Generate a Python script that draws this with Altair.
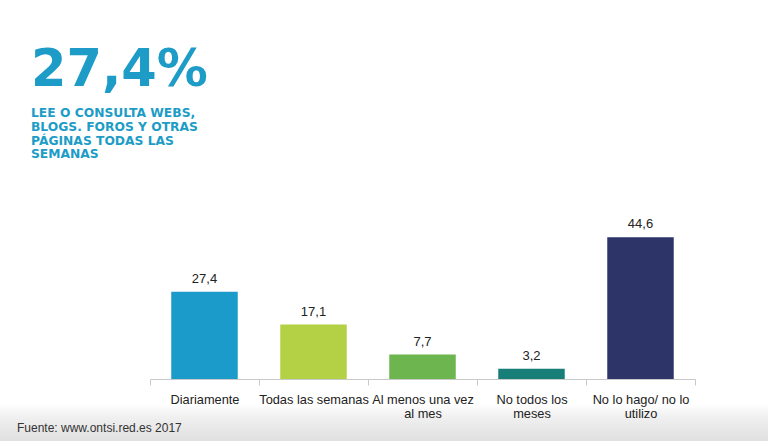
import altair as alt
import pandas as pd

# ---- data ----
categories = ["Diariamente", "Todas las semanas", "Al menos una vez al mes",
              "No todos los meses", "No lo hago/ no lo utilizo"]
axis_labels = ["Diariamente", "Todas las semanas", "Al menos una vez|al mes",
               "No todos los|meses", "No lo hago/ no lo|utilizo"]
values = [27.4, 17.1, 7.7, 3.2, 44.6]
value_labels = ["27,4", "17,1", "7,7", "3,2", "44,6"]
colors = ["#1a9bc9", "#b4d145", "#6cb54f", "#187e78", "#2d3568"]
headline = "27,4%"
subtitle_lines = ["LEE O CONSULTA WEBS,", "BLOGS. FOROS Y OTRAS",
                  "PÁGINAS TODAS LAS", "SEMANAS"]
source_text = "Fuente: www.ontsi.red.es 2017"

df = pd.DataFrame({
    "cat": categories,
    "axlab": axis_labels,
    "value": values,
    "vlabel": value_labels,
})
lab_map = "{" + ",".join(f"'{c}': '{a}'" for c, a in zip(categories, axis_labels)) + "}"

TEAL = "#1c9cc6"
FONT = "Liberation Sans"

x_enc = alt.X("cat:N", sort=categories, title=None,
              scale=alt.Scale(paddingInner=0, paddingOuter=0),
              axis=alt.Axis(labelAngle=0, domainColor="#c9c9c9", tickColor="#c9c9c9",
                            tickSize=6, tickBand="extent", labelPadding=8,
                            labelFont=FONT, labelFontSize=12.8, labelColor="#222222",
                            labelLineHeight=14.5, labelLimit=200, zindex=1,
                            labelExpr=f"isDefined({lab_map}[datum.value]) ? split({lab_map}[datum.value], '|') : ''"))
y_enc = alt.Y("value:Q", scale=alt.Scale(domain=[0, 50], nice=False), axis=None)

base = alt.Chart(df)

bars = base.mark_bar(width=alt.RelativeBandSize(0.61)).encode(
    x=x_enc, y=y_enc,
    color=alt.Color("cat:N", sort=categories,
                    scale=alt.Scale(domain=categories, range=colors), legend=None),
)

vals = base.mark_text(dy=-9, baseline="alphabetic", font=FONT, fontSize=13,
                      color="#222222").encode(
    x=alt.X("cat:N", sort=categories), y="value:Q", text="vlabel:N")

one = pd.DataFrame({"a": [0]})

footer_bg = alt.Chart(one).mark_rect(
    fill=alt.Gradient(gradient="linear", x1=0, y1=0, x2=0, y2=1,
                      stops=[alt.GradientStop(color="#ffffff", offset=0),
                             alt.GradientStop(color="#f0f0f0", offset=0.35),
                             alt.GradientStop(color="#e0e0e0", offset=1)])
).encode(x=alt.value(-150), x2=alt.value(618), y=alt.value(184), y2=alt.value(221))

head = alt.Chart(one).mark_text(
    text=headline, font="DejaVu Sans", fontWeight="bold", fontSize=51, color=TEAL,
    align="left", baseline="alphabetic"
).encode(x=alt.value(-119), y=alt.value(-134))

sub = alt.Chart(one).mark_text(
    text=subtitle_lines, font="DejaVu Sans", fontWeight="bold", fontSize=12.3, color=TEAL,
    align="left", baseline="alphabetic", lineHeight=13.8
).encode(x=alt.value(-119), y=alt.value(-103))

src = alt.Chart(one).mark_text(
    text=source_text, font=FONT, fontSize=12, color="#333333",
    align="left", baseline="alphabetic"
).encode(x=alt.value(-133), y=alt.value(212))

chart = alt.layer(footer_bg, bars, vals, head, sub, src).properties(
    width=545, height=159,
    autosize=alt.AutoSizeParams(type="none"),
    padding={"left": 150, "top": 220, "right": 73, "bottom": 62},
    background="white",
).configure_view(stroke=None)

chart.save("out.html", embed_options={"renderer": "svg", "actions": False})
